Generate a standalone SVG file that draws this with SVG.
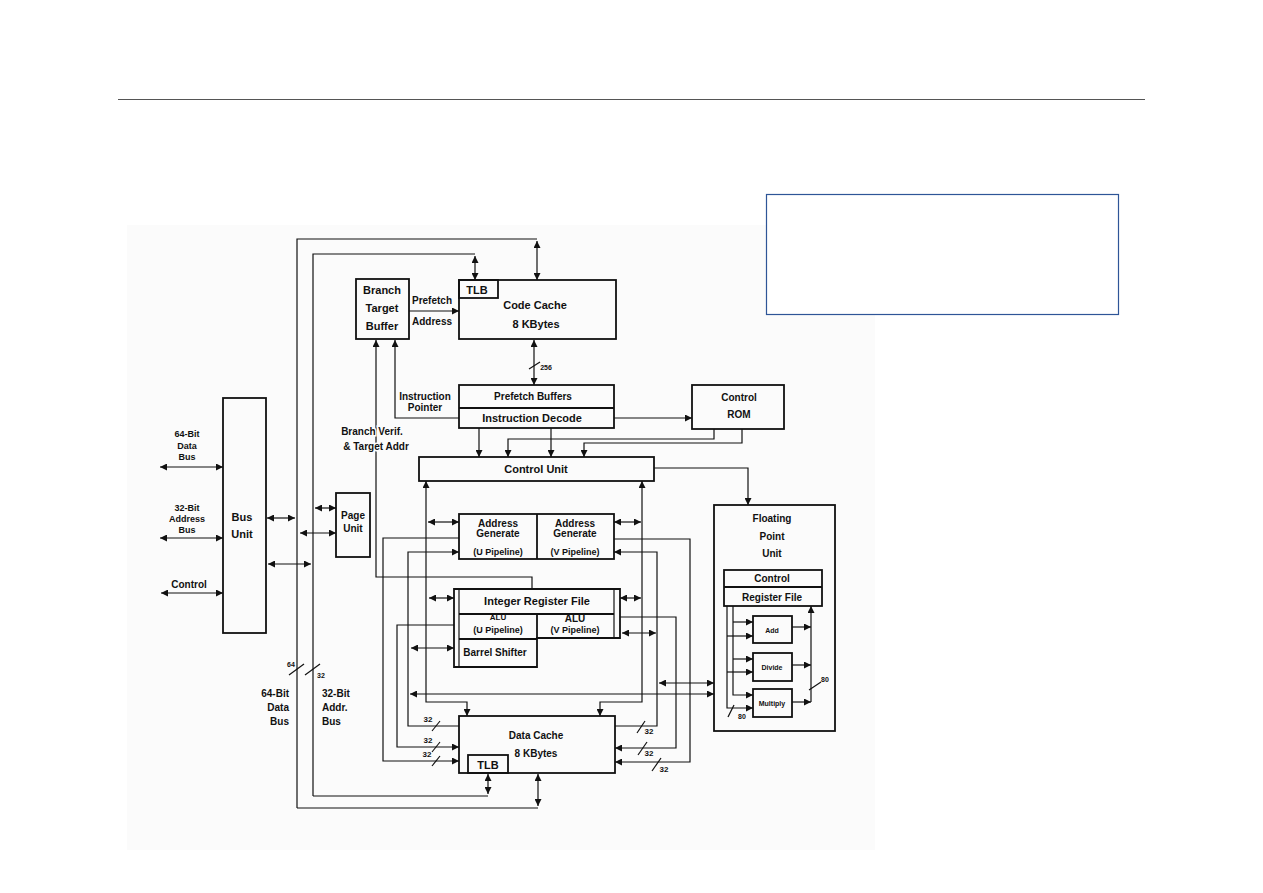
<svg xmlns="http://www.w3.org/2000/svg" width="1263" height="893" viewBox="0 0 1263 893">
<defs>
<marker id="ah" viewBox="0 0 10 10" refX="10" refY="5" markerWidth="8" markerHeight="7" markerUnits="userSpaceOnUse" orient="auto-start-reverse"><path d="M0,0 L10,5 L0,10 z" fill="#111"/></marker>
</defs>
<style>
.box{fill:none;stroke:#111;stroke-width:1.8}
.ln{fill:none;stroke:#111;stroke-width:1.2}
.e{marker-end:url(#ah)}
.s{marker-start:url(#ah)}
.b{marker-start:url(#ah);marker-end:url(#ah)}
text{font-family:"Liberation Sans",Arial,sans-serif;font-weight:bold;fill:#111;text-anchor:middle}
.t11{font-size:11px}
.t10{font-size:10px}
.t9{font-size:9px}
.t8{font-size:8px}
.t7{font-size:7px}
.l{text-anchor:start}
.r{text-anchor:end}
.halo{paint-order:stroke;stroke:#fbfbfb;stroke-width:3px}
</style>
<rect x="0" y="0" width="1263" height="893" fill="#fff"/>
<line x1="118" y1="99.5" x2="1145" y2="99.5" stroke="#555" stroke-width="1"/>
<rect x="127" y="225" width="748" height="625" fill="#fbfbfb"/>
<rect x="766.5" y="194.5" width="352" height="120" fill="#fff" stroke="#2e5597" stroke-width="1.2"/>

<g id="connectors">
<path class="ln" d="M297,808 V239 H537"/>
<path class="ln b" d="M537,241 V280"/>
<path class="ln" d="M313,796 V254 H475"/>
<path class="ln b" d="M475,256 V280"/>
<path class="ln" d="M297,808 H538"/>
<path class="ln b" d="M538,806 V774"/>
<path class="ln" d="M313,796 H488"/>
<path class="ln b" d="M488,794 V774"/>
<line class="ln" x1="289" y1="675" x2="304" y2="664"/>
<line class="ln" x1="305" y1="675" x2="320" y2="664"/>
<path class="ln b" d="M160,467 H223"/>
<path class="ln b" d="M160,538 H223"/>
<path class="ln b" d="M161,593 H223"/>
<path class="ln b" d="M267,518 H295"/>
<path class="ln b" d="M268,564 H311"/>
<path class="ln b" d="M300,533 H336"/>
<path class="ln b" d="M315,508 H336"/>
<path class="ln e" d="M409,311 H459"/>
<path class="ln b" d="M534,340 V385"/>
<line class="ln" x1="529" y1="369" x2="540" y2="362"/>
<path class="ln s" d="M395,340 V418 H459"/>
<path class="ln s" d="M376,340 V577 H532 V589"/>
<path class="ln e" d="M614,418 H692"/>
<path class="ln e" d="M714,429 V439 H508 V457"/>
<path class="ln e" d="M742,429 V443 H584 V457"/>
<path class="ln e" d="M479,428 V457"/>
<path class="ln e" d="M551,428 V457"/>
<path class="ln e" d="M654,468 H748 V505"/>
<path class="ln b" d="M467,716 V702 H426 V481"/>
<path class="ln b" d="M600,716 V702 H642 V481"/>
<path class="ln b" d="M428,522 H459"/>
<path class="ln b" d="M614,522 H641"/>
<path class="ln e" d="M459,538 H383 V761 H459"/>
<path class="ln e" d="M459,726 H408 V552 H459"/>
<path class="ln e" d="M614,539 H690 V762 H615"/>
<path class="ln e" d="M615,726 H657 V552 H614"/>
<path class="ln b" d="M429,598 H454"/>
<path class="ln b" d="M620,598 H641"/>
<path class="ln b" d="M411,648 H454"/>
<path class="ln e" d="M454,625 H397 V747 H459"/>
<path class="ln e" d="M620,617 H676 V748 H615"/>
<path class="ln b" d="M622,633 H656"/>
<path class="ln b" d="M410,694 H714"/>
<path class="ln b" d="M659,683 H714"/>
<line class="ln" x1="432" y1="731" x2="440" y2="721"/>
<line class="ln" x1="432" y1="752" x2="440" y2="742"/>
<line class="ln" x1="432" y1="766" x2="440" y2="756"/>
<line class="ln" x1="637" y1="733" x2="645" y2="721"/>
<line class="ln" x1="638" y1="755" x2="647" y2="742"/>
<line class="ln" x1="652" y1="771" x2="661" y2="758"/>
<path class="ln e" d="M727,606 V708 H753"/>
<path class="ln e" d="M733,606 V695 H753"/>
<path class="ln e" d="M733,622 H753"/>
<path class="ln e" d="M727,636 H753"/>
<path class="ln e" d="M733,659 H753"/>
<path class="ln e" d="M727,672 H753"/>
<path class="ln e" d="M792,627 H811"/>
<path class="ln e" d="M792,665 H811"/>
<path class="ln e" d="M792,702 H811"/>
<path class="ln e" d="M811,702 V606"/>
<line class="ln" x1="728" y1="717" x2="734" y2="705"/>
<line class="ln" x1="809" y1="690" x2="821" y2="682"/>
</g>

<g id="bus-unit">
<rect class="box" x="223" y="398" width="43" height="235"/>
<text class="t11" x="242" y="521">Bus</text>
<text class="t11" x="242" y="538">Unit</text>
</g>

<g id="bus-labels">
<text class="t9" x="187" y="437">64-Bit</text>
<text class="t9" x="187" y="449">Data</text>
<text class="t9" x="187" y="460">Bus</text>
<text class="t9" x="187" y="511">32-Bit</text>
<text class="t9" x="187" y="522">Address</text>
<text class="t9" x="187" y="533">Bus</text>
<text class="t10" x="189" y="588">Control</text>
<text class="t10 r" x="289" y="697">64-Bit</text>
<text class="t10 r" x="289" y="711">Data</text>
<text class="t10 r" x="289" y="725">Bus</text>
<text class="t10 l" x="322" y="697">32-Bit</text>
<text class="t10 l" x="322" y="711">Addr.</text>
<text class="t10 l" x="322" y="725">Bus</text>
<text class="t7" x="291" y="667">64</text>
<text class="t7" x="321" y="678">32</text>
<text class="t7" x="546" y="370">256</text>
<text class="t8" x="428" y="722">32</text>
<text class="t8" x="428" y="743">32</text>
<text class="t8" x="427" y="757">32</text>
<text class="t8" x="649" y="734">32</text>
<text class="t8" x="649" y="756">32</text>
<text class="t8" x="664" y="772">32</text>
<text class="t7" x="742" y="719">80</text>
<text class="t7" x="825" y="682">80</text>
</g>

<g id="page-unit">
<rect class="box" x="336" y="493" width="34" height="64"/>
<text class="t10" x="353" y="519">Page</text>
<text class="t10" x="353" y="532">Unit</text>
</g>

<g id="branch-target-buffer">
<rect class="box" x="356" y="279" width="53" height="60"/>
<text class="t11" x="382" y="294">Branch</text>
<text class="t11" x="382" y="312">Target</text>
<text class="t11" x="382" y="330">Buffer</text>
</g>

<g id="labels-misc">
<text class="t10" x="432" y="304">Prefetch</text>
<text class="t10" x="432" y="325">Address</text>
<text class="t10" x="425" y="400">Instruction</text>
<text class="t10" x="425" y="411">Pointer</text>
<text class="t10 halo" x="372" y="435">Branch Verif.</text>
<text class="t10 halo" x="376" y="450">&amp; Target Addr</text>
</g>

<g id="code-cache">
<rect class="box" x="459" y="280" width="157" height="59"/>
<rect class="box" x="459" y="280" width="39" height="18"/>
<text class="t11" x="477" y="294">TLB</text>
<text class="t11" x="535" y="309">Code Cache</text>
<text class="t11" x="536" y="328">8 KBytes</text>
</g>

<g id="prefetch-decode">
<rect class="box" x="459" y="385" width="155" height="43"/>
<line class="box" x1="459" y1="408" x2="614" y2="408"/>
<text class="t10" x="533" y="400">Prefetch Buffers</text>
<text class="t11" x="532" y="422">Instruction Decode</text>
</g>

<g id="control-rom">
<rect class="box" x="692" y="385" width="92" height="44"/>
<text class="t10" x="739" y="401">Control</text>
<text class="t10" x="739" y="418">ROM</text>
</g>

<g id="control-unit">
<rect class="box" x="419" y="457" width="235" height="24"/>
<text class="t11" x="536" y="473">Control Unit</text>
</g>

<g id="address-generate">
<rect class="box" x="459" y="514" width="155" height="45"/>
<line class="box" x1="537" y1="514" x2="537" y2="559"/>
<text class="t10" x="498" y="527">Address</text>
<text class="t10" x="498" y="537">Generate</text>
<text class="t9" x="498" y="555">(U Pipeline)</text>
<text class="t10" x="575" y="527">Address</text>
<text class="t10" x="575" y="537">Generate</text>
<text class="t9" x="575" y="555">(V Pipeline)</text>
</g>

<g id="integer-unit">
<path class="box" d="M454,589 H620 V638 H537 V667 H454 Z"/>
<line class="ln" x1="459" y1="589" x2="459" y2="667"/>
<line class="ln" x1="614" y1="589" x2="614" y2="638"/>
<line class="box" x1="459" y1="614" x2="614" y2="614"/>
<line class="box" x1="459" y1="639" x2="537" y2="639"/>
<line class="box" x1="537" y1="614" x2="537" y2="639"/>
<text class="t11" x="537" y="605">Integer Register File</text>
<text class="t8" x="498" y="620">ALU</text>
<text class="t9" x="498" y="633">(U Pipeline)</text>
<text class="t10" x="575" y="622">ALU</text>
<text class="t9" x="575" y="633">(V Pipeline)</text>
<text class="t10" x="495" y="656">Barrel Shifter</text>
</g>

<g id="data-cache">
<rect class="box" x="459" y="716" width="156" height="57"/>
<rect class="box" x="468" y="755" width="40" height="18"/>
<text class="t10" x="536" y="739">Data Cache</text>
<text class="t10" x="536" y="757">8 KBytes</text>
<text class="t11" x="488" y="769">TLB</text>
</g>

<g id="fpu">
<rect class="box" x="714" y="505" width="121" height="226"/>
<text class="t10" x="772" y="522">Floating</text>
<text class="t10" x="772" y="540">Point</text>
<text class="t10" x="772" y="557">Unit</text>
<rect class="box" x="724" y="570" width="98" height="36"/>
<line class="box" x1="724" y1="587" x2="822" y2="587"/>
<text class="t10" x="772" y="582">Control</text>
<text class="t10" x="772" y="601">Register File</text>
<rect class="box" x="753" y="616" width="39" height="27"/>
<text class="t7" x="772" y="633">Add</text>
<rect class="box" x="753" y="653" width="39" height="28"/>
<text class="t7" x="772" y="670">Divide</text>
<rect class="box" x="753" y="689" width="39" height="28"/>
<text class="t7" x="772" y="706">Multiply</text>
</g>
</svg>
